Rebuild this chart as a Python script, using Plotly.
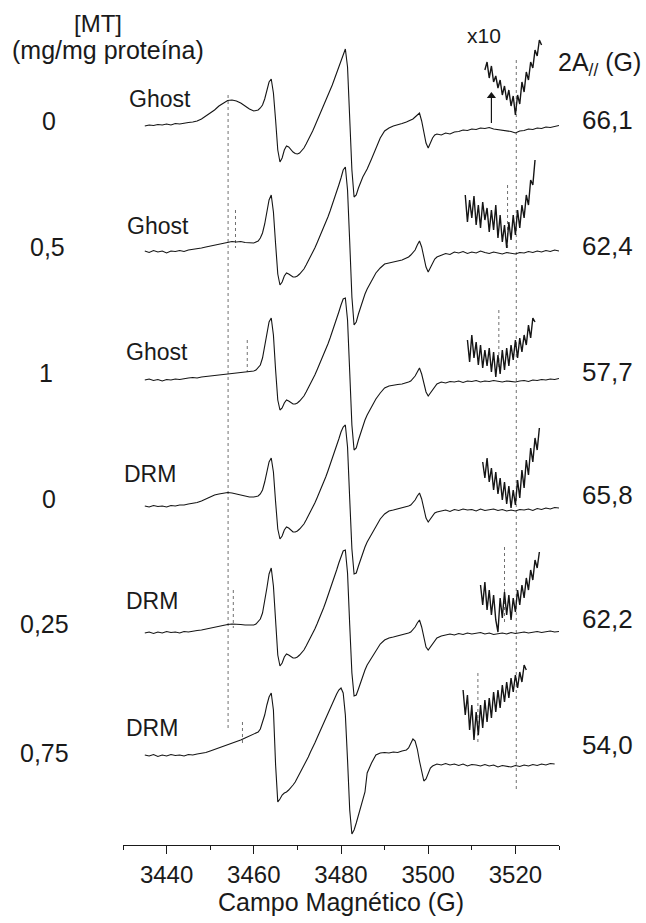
import numpy as np
import plotly.graph_objects as go

# ---------------- data ----------------
# magnetic field sampling grid (G)
FIELD = np.concatenate([
    np.arange(3435, 3460, 1.0),
    np.arange(3460, 3486.5, 0.5),
    np.arange(3487, 3496, 1.0),
    np.arange(3495.5, 3502.5, 0.5),
    np.arange(3503, 3531, 1.0),
])

CONC = ["0", "0,5", "1", "0", "0,25", "0,75"]          # [MT] (mg/mg proteína)
SAMPLE = ["Ghost", "Ghost", "Ghost", "DRM", "DRM", "DRM"]

# first-derivative EPR spectra (arbitrary units)
GHOST_0 = [
    -1, 0, -0.5, 0.5, 0, 1, 0, 1.5, 1, 2, 2.5, 3, 4, 6, 9, 12, 15, 19, 22, 24.5, 25, 24, 22, 19, 16,
    14, 14.5, 15, 17, 20, 26, 35, 43, 46, 32, 5, -25, -37, -33, -25, -21, -22, -25, -27,
    -28.5, -29, -28, -26, -23, -19, -15, -11, -6, -1, 4, 9, 14, 19, 24, 29, 34, 40, 46, 52,
    58, 64, 71, 76, 58, 8, -45, -72, -70, -63, -57, -52, -48, -44,
    -34, -23, -13, -6, -3, -1, 0, 1.5, 3,
    4, 5, 6, 8, 10, 12, 4, -8, -18, -23, -18, -13, -10, -9,
    -10, -8, -9, -7, -6.5, -5, -5.5, -4, -4.5, -3, -3.5, -2.5, -4, -4.5, -5, -5.5, -6.5, -8, -6,
    -5.5, -4, -4.5, -3, -3.5, -2, -2.5, -1.5, -0.5,
]
GHOST_05 = [
    1, -0.5, 1.5, 0, 1, -1, 1, 0.5, 1.5, 0.5, 2, 2.5, 3, 4, 5, 6, 7, 8, 9, 9.5, 10.5, 10, 10.5, 9.5, 9,
    9, 10, 11, 14, 19, 28, 40, 52, 57, 40, 8, -22, -33, -30, -24, -21, -22, -24, -25,
    -25, -24, -22, -20, -17, -13, -9, -5, -1, 4, 9, 14, 19, 24, 29, 35, 41, 47, 53, 60,
    67, 74, 82, 85, 62, 10, -45, -73, -70, -62, -55, -48, -42, -37,
    -29, -21, -16, -12, -11, -10, -9.5, -8, -6,
    -5, -3, -1, 2, 7, 11, 5, -6, -15, -20, -16, -11, -7, -5,
    -3, -1.5, -2.5, 0, -1, 0.5, -1.5, 0, -1, 1, -0.5, -1.5, 0, -1, -2, -0.5, -1.5, -2, -0.5,
    -1, 0.5, -0.5, 1, 0, 1.5, 0.5, 2, 1,
]
GHOST_1 = [
    0, 1, -0.5, 0.5, -1, 0.5, 0, 1, 0.5, 1.5, 2, 2.5, 2, 3, 3.5, 4, 4.5, 5, 5.5, 6, 6.5, 7, 7.5, 8, 8,
    9, 10, 12, 15, 22, 33, 46, 58, 62, 45, 10, -20, -30, -28, -23, -20, -21, -23, -24,
    -24, -23, -21, -19, -16, -12, -8, -4, 0, 5, 10, 15, 20, 25, 30, 36, 42, 48, 54, 61,
    68, 75, 81, 82, 60, 8, -45, -70, -68, -60, -53, -46, -40, -35,
    -27, -19, -13, -8, -6, -5, -4.5, -4, -3,
    -2, -1, 1, 4, 8, 12, 6, -4, -12, -16, -13, -9, -6, -4,
    -2, -3, -1.5, -2, -1, -2.5, -1, -1.5, -0.5, -2, -1, -1.5, -0.5, -1, -2, -1, -1.5, -2, -1,
    -0.5, -1.5, 0, -0.5, 0.5, 0, 1, 0.5, 1.5,
]
DRM_0 = [
    1, 0, 1.5, 0.5, 1, 0, 1.5, 1, 2, 2, 3, 3.5, 4.5, 6, 8, 10, 12, 13, 14, 14.5, 14, 13, 11.5, 10.5, 10,
    10, 10.5, 11, 13, 17, 25, 36, 45, 49, 35, 5, -22, -32, -29, -23, -20, -21, -23, -25,
    -25, -24, -22, -20, -17, -13, -9, -5, -1, 4, 9, 14, 19, 24, 30, 36, 42, 48, 54, 61,
    68, 75, 80, 82, 60, 8, -42, -67, -66, -59, -52, -46, -40, -35,
    -27, -19, -12, -7, -4, -3, -2, -1, 0,
    1, 2, 4, 7, 11, 14, 8, -3, -11, -15, -12, -8, -6, -5,
    -4, -3, -4.5, -2.5, -3.5, -2, -3, -2.5, -4, -2, -3.5, -3, -2, -3.5, -2.5, -4, -3, -4, -2.5,
    -3, -2, -3.5, -1.5, -2.5, -1, -2, -0.5, -1,
]
DRM_025 = [
    0, 1, -0.5, 1, 0, 1.5, 0.5, 1, 0, 1.5, 1, 2, 2.5, 3, 4, 5, 6, 7, 8, 8.5, 9, 9, 8.5, 8, 8,
    8, 9, 11, 14, 20, 31, 45, 59, 65, 47, 10, -22, -33, -30, -24, -21, -22, -24, -25,
    -25, -24, -22, -20, -17, -13, -9, -5, -1, 4, 9, 14, 19, 25, 31, 37, 43, 49, 56, 63,
    70, 77, 82, 83, 60, 8, -40, -63, -62, -56, -49, -43, -37, -32,
    -25, -17, -11, -7, -5, -4, -3, -2, -1,
    0, 1, 3, 6, 10, 13, 6, -5, -14, -17, -14, -10, -7, -5,
    -3, -2, -1, -2, -0.5, -1.5, 0, -1, -0.5, 0.5, -1, 0, -1.5, -0.5, 0, -1, 0.5, -0.5, 0,
    1, 0, 0.5, 1.5, 0.5, 1, 2, 1, 1.5,
]
DRM_075 = [
    0, -1, 0.5, -1.5, 0, -1, 0.5, -0.5, 0, -1, 0.5, 0, 1, 1.5, 2.5, 4, 5.5, 7, 8.5, 10, 11.5, 13, 15, 17, 19,
    21, 22, 23, 26, 32, 40, 50, 58, 62, 45, -10, -47, -44, -40, -38, -37, -35, -33,
    -30, -27, -23, -19, -14, -10, -6, -2, 3, 7, 12, 17, 22, 27, 32, 37, 42, 47, 52, 57,
    61, 65, 67, 62, 40, -5, -55, -79, -75, -68, -60, -52, -44, -37,
    -18, -8, 0, 2, 2.5, 2, 3, 2.5, 4,
    5, 7, 11, 16, 14, 6, -6, -18, -26, -24, -18, -13, -11, -10,
    -9, -10, -8.5, -10, -9, -10.5, -9, -11, -9.5, -10, -11, -9.5, -11, -10, -12, -10.5, -11, -12,
    -10.5, -11.5, -10, -11, -9.5, -10.5, -9, -10, -8.5, -9,
]
SPECTRA = [GHOST_0, GHOST_05, GHOST_1, DRM_0, DRM_025, DRM_075]

# high-field region amplified x10
X10_FIELD = [
    np.arange(3513.0, 3526.5, 0.5),
    np.arange(3508.5, 3525.0, 0.5),
    np.arange(3509.0, 3525.0, 0.5),
    np.arange(3512.5, 3526.0, 0.5),
    np.arange(3512.0, 3526.0, 0.5),
    np.arange(3508.0, 3523.0, 0.5),
]
X10_SIGNAL = [
    [55, 63, 47, 59, 43, 49, 37, 45, 30, 39, 25, 35, 19, 29, 10, 30, 21, 43, 33, 53, 45, 63, 57,
     75, 69, 85, 80],
    [57, 30, 52, 34, 56, 27, 47, 24, 50, 32, 44, 20, 42, 22, 47, 14, 37, 10, 27, 4, 30, 12, 37,
     17, 42, 24, 47, 34, 57, 47, 72, 67, 92],
    [40, 18, 45, 22, 38, 15, 35, 12, 30, 14, 32, 8, 28, 3, 25, 6, 30, 10, 32, 14, 35, 20, 40, 22,
     42, 28, 45, 35, 55, 42, 62, 58],
    [45, 29, 49, 25, 39, 17, 35, 13, 29, 7, 25, 3, 21, -1, 17, 2, 27, 9, 37, 19, 47, 32, 59, 45,
     69, 57, 79],
    [48, 28, 51, 23, 43, 18, 38, 13, 1, 35, 15, 41, 18, 38, 13, 35, 21, 43, 28, 48, 35, 55, 43,
     63, 53, 73, 65, 81],
    [65, 40, 60, 25, 50, 15, 43, 20, 50, 27, 55, 33, 57, 37, 63, 43, 65, 47, 70, 53, 73, 57, 77,
     63, 80, 67, 83, 73, 90, 85],
]

# hyperfine splitting 2A// (G): high-field line position and splitting
HIGH_LINE = [3520.2, 3518.2, 3516.2, 3520.2, 3517.5, 3511.4]
SPLIT_2A = [66.1, 62.4, 57.7, 65.8, 62.2, 54.0]
SPLIT_TXT = ["66,1", "62,4", "57,7", "65,8", "62,2", "54,0"]

X_TITLE = "Campo Magnético (G)"

# ---------------- layout helpers ----------------
W, H = 646, 923
L, R, T, B = 123, 87, 0, 78
PH = H - T - B
FONT = "Liberation Sans, Arial, Helvetica, sans-serif"
INK = "#151515"

BASE_PX = [125, 252, 380, 507, 633, 755]        # vertical position of each trace


def ydat(py):
    return PH - (py - T)


def xpaper(px):
    return (px - L) / (W - L - R)


def ypaper(py):
    return (H - B - py) / PH


fig = go.Figure()

# guide lines marking the outer hyperfine extrema
LONG_GUIDES = [  # (spectrum index, which line, top px, bottom px)
    (0, "low", 95, 730),
    (0, "high", 60, 790),
]
SHORT_GUIDES = [
    (1, 210, 248, 185, 250),
    (2, 340, 372, 310, 370),
    (4, 590, 628, 547, 625),
    (5, 722, 745, 673, 745),
]
dot = dict(color="#707070", width=1, dash="dot")
for i, which, top, bot in LONG_GUIDES:
    xv = HIGH_LINE[i] - SPLIT_2A[i] if which == "low" else HIGH_LINE[i]
    fig.add_trace(go.Scatter(x=[xv, xv], y=[ydat(top), ydat(bot)], mode="lines",
                             line=dot, hoverinfo="skip", showlegend=False))
for i, lt, lb, ht, hb in SHORT_GUIDES:
    lo = HIGH_LINE[i] - SPLIT_2A[i]
    fig.add_trace(go.Scatter(x=[lo, lo], y=[ydat(lt), ydat(lb)], mode="lines",
                             line=dot, hoverinfo="skip", showlegend=False))
    fig.add_trace(go.Scatter(x=[HIGH_LINE[i]] * 2, y=[ydat(ht), ydat(hb)], mode="lines",
                             line=dot, hoverinfo="skip", showlegend=False))

# spectra
for spec, base in zip(SPECTRA, BASE_PX):
    fig.add_trace(go.Scatter(x=FIELD, y=ydat(base) + np.asarray(spec, float), mode="lines",
                             line=dict(color=INK, width=1.1), hoverinfo="skip",
                             showlegend=False))

# x10 insets
for fx, sig, base in zip(X10_FIELD, X10_SIGNAL, BASE_PX):
    fig.add_trace(go.Scatter(x=fx, y=ydat(base) + np.asarray(sig, float), mode="lines",
                             line=dict(color=INK, width=1.4), hoverinfo="skip",
                             showlegend=False))

# arrow pointing at the low-field edge of the amplified region
ARROW_X = 3514.5
fig.add_trace(go.Scatter(x=[ARROW_X, ARROW_X], y=[ydat(123), ydat(98)], mode="lines",
                         line=dict(color=INK, width=1.2), hoverinfo="skip", showlegend=False))
fig.add_trace(go.Scatter(x=[ARROW_X], y=[ydat(96)], mode="markers",
                         marker=dict(symbol="triangle-up", size=8, color=INK),
                         hoverinfo="skip", showlegend=False))

ann = []


def text(s, px, py, size, xanchor="center"):
    ann.append(dict(text=s, x=xpaper(px), y=ypaper(py), xref="paper", yref="paper",
                    xanchor=xanchor, yanchor="middle", showarrow=False,
                    font=dict(family=FONT, size=size, color="#1a1a1a")))


text("[MT]", 98, 24, 24)
text("(mg/mg proteína)", 108, 50, 25)
CONC_PX = [(49, 121), (47, 247), (46, 373), (49, 499), (44, 624), (44, 753)]
for s, (px, py) in zip(CONC, CONC_PX):
    text(s, px, py, 25)
SAMPLE_PX = [(160, 99), (158, 226), (157, 352), (150, 474), (152, 601), (152, 728)]
for s, (px, py) in zip(SAMPLE, SAMPLE_PX):
    text(s, px, py, 23)
SPLIT_PY = [120, 246, 372, 495, 619, 745]
for s, py in zip(SPLIT_TXT, SPLIT_PY):
    text(s, 607, py, 26)
text("x10", 484, 36, 21)
text("2A<sub>//</sub> (G)", 599, 64, 25)

fig.update_layout(
    width=W, height=H, margin=dict(l=L, r=R, t=T, b=B),
    paper_bgcolor="white", plot_bgcolor="white",
    annotations=ann,
    xaxis=dict(range=[3430, 3530], showgrid=False, zeroline=False, showline=True,
               linecolor="#1a1a1a", linewidth=1.3, ticks="outside", ticklen=8,
               tickwidth=1.3, tickcolor="#1a1a1a", tick0=3440, dtick=20,
               tickfont=dict(family=FONT, size=24, color="#1a1a1a"),
               title=dict(text=X_TITLE, standoff=6,
                          font=dict(family=FONT, size=25, color="#1a1a1a")),
               automargin=False,
               minor=dict(tick0=3430, dtick=10, ticks="outside", ticklen=4,
                          tickwidth=1.3, tickcolor="#1a1a1a")),
    yaxis=dict(range=[0, PH], visible=False, fixedrange=True),
)

fig.write_html("out.html")
